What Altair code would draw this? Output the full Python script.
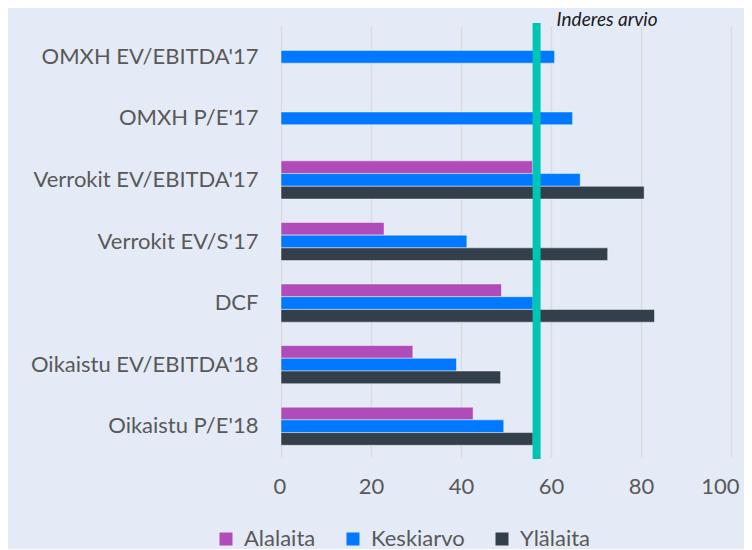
import altair as alt
import pandas as pd

categories = ["OMXH EV/EBITDA'17", "OMXH P/E'17", "Verrokit EV/EBITDA'17\u00a0",
              "Verrokit EV/S'17\u00a0", "DCF", "Oikaistu EV/EBITDA'18", "Oikaistu P/E'18"]
series = ["Alalaita", "Keskiarvo", "Ylälaita"]
alalaita = [None, None, 55.9, 22.9, 49.0, 29.3, 42.7]
keskiarvo = [60.8, 64.8, 66.5, 41.3, 56.0, 39.0, 49.5]
ylalaita = [None, None, 80.7, 72.6, 83.0, 48.8, 56.0]
inderes_arvio = 56.8
colors = ["#B04CBA", "#0078FF", "#333F4A"]

rows = []
for i, c in enumerate(categories):
    for s, vals in zip(series, [alalaita, keskiarvo, ylalaita]):
        if vals[i] is not None:
            rows.append({"kategoria": c, "sarja": s, "arvo": vals[i]})
df = pd.DataFrame(rows)

W, H = 450, 431
font = "Lato"

bars = alt.Chart(df).mark_bar(stroke="white", strokeOpacity=0.45, strokeWidth=1).encode(
    y=alt.Y("kategoria:N", sort=categories, title=None,
            scale=alt.Scale(paddingInner=0.38, paddingOuter=0.19),
            axis=alt.Axis(labelFontSize=22, labelColor="#595959", labelFont=font,
                          labelPadding=23, ticks=False, domain=False, grid=False,
                          labelLimit=400)),
    yOffset=alt.YOffset("sarja:N", sort=series, scale=alt.Scale(paddingInner=0, paddingOuter=0)),
    x=alt.X("arvo:Q", title=None,
            scale=alt.Scale(domain=[0, 100], nice=False),
            axis=alt.Axis(values=[0, 20, 40, 60, 80, 100], labelFontSize=22,
                          labelColor="#595959", labelFont=font, labelPadding=19,
                          labelFlush=True, labelFlushOffset=8, labelOverlap=False,
                          ticks=False, domain=False, grid=True, gridColor="#D9DBDF",
                          gridWidth=1.5)),
    color=alt.Color("sarja:N", sort=series,
                    scale=alt.Scale(domain=series, range=colors),
                    legend=alt.Legend(title=None, orient="none", direction="horizontal",
                                      legendX=-66, legendY=502, symbolType="square",
                                      symbolSize=169, symbolStrokeWidth=0,
                                      labelFontSize=22, labelColor="#595959",
                                      labelFont=font, columnPadding=26, labelOffset=7)),
)

line_df = pd.DataFrame({"arvo": [inderes_arvio], "nimi": ["Inderes arvio"]})

rule = alt.Chart(line_df).mark_rule(color="#00C4B4", strokeWidth=8).encode(
    x="arvo:Q", y=alt.value(-3), y2=alt.value(H + 2)
)

label = alt.Chart(line_df).mark_text(align="left", baseline="middle", fontStyle="italic",
                                     fontSize=19, font=font, color="#1A1A1A", dx=20).encode(
    x="arvo:Q", y=alt.value(-6), text="nimi:N"
)

chart = alt.layer(bars, rule, label).properties(
    width=W, height=H,
    background="#E5EBF6",
    autosize=alt.AutoSizeParams(type="none"),
    padding={"left": 273, "top": 18, "right": 13, "bottom": 92},
).configure_view(stroke=None)

chart.save("out.html", embed_options={"renderer": "svg", "actions": False})
